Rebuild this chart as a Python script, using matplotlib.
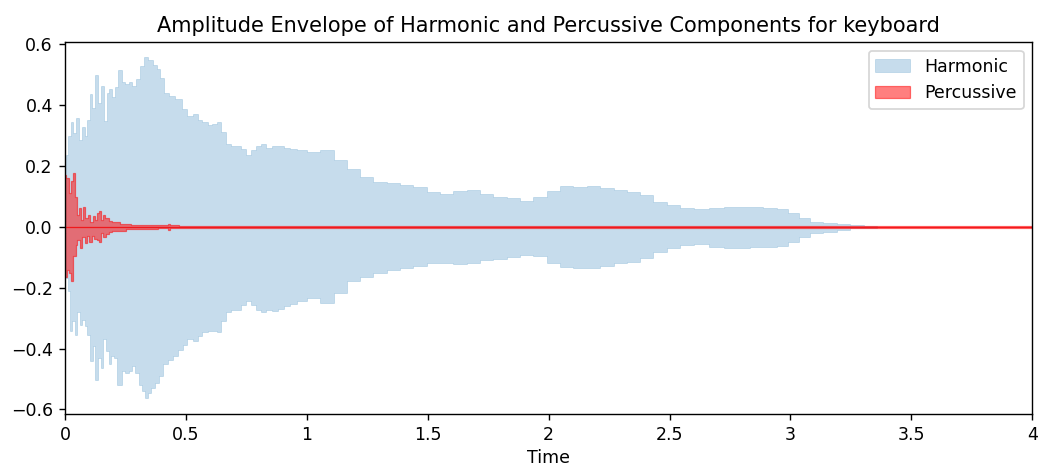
#!/usr/bin/env python3
"""Amplitude envelope of the harmonic / percussive parts of a keyboard note."""

import matplotlib
matplotlib.use("Agg")
import matplotlib.pyplot as plt
from matplotlib.ticker import FuncFormatter, MultipleLocator

# Harmonic envelope (seconds, amplitude)
harm_top_t = [0.000, 0.008, 0.020, 0.029, 0.040, 0.052, 0.063, 0.076, 0.087, 0.098,
              0.108, 0.119, 0.130, 0.142, 0.156, 0.167, 0.178, 0.187, 0.201, 0.212,
              0.228, 0.244, 0.256, 0.270, 0.285, 0.305, 0.318, 0.336, 0.353, 0.371,
              0.387, 0.401, 0.418, 0.443, 0.470, 0.496, 0.517, 0.538, 0.558, 0.579,
              0.600, 0.620, 0.638, 0.655, 0.676, 0.696, 0.717, 0.738, 0.758, 0.779,
              0.800, 0.820, 0.841, 0.869, 0.896, 0.917, 0.944, 0.972, 1.027, 1.083,
              1.138, 1.192, 1.248, 1.303, 1.358, 1.413, 1.468, 1.524, 1.579, 1.634,
              1.689, 1.744, 1.799, 1.855, 1.910, 1.965, 2.020, 2.075, 2.130, 2.185,
              2.241, 2.296, 2.351, 2.406, 2.461, 2.516, 2.572, 2.627, 2.696, 2.751,
              2.806, 2.861, 2.916, 2.971, 3.013, 3.054, 3.109, 3.164, 3.219, 3.275,
              3.330, 3.385, 3.450, 4.000]
harm_top = [0.020, 0.236, 0.300, 0.345, 0.308, 0.357, 0.285, 0.330, 0.300, 0.350,
            0.438, 0.390, 0.498, 0.406, 0.462, 0.347, 0.440, 0.455, 0.427, 0.460,
            0.517, 0.476, 0.470, 0.476, 0.462, 0.485, 0.530, 0.560, 0.548, 0.534,
            0.520, 0.490, 0.440, 0.430, 0.420, 0.389, 0.364, 0.370, 0.351, 0.345,
            0.334, 0.340, 0.345, 0.312, 0.274, 0.266, 0.266, 0.255, 0.236, 0.252,
            0.266, 0.272, 0.261, 0.266, 0.266, 0.261, 0.255, 0.252, 0.247, 0.252,
            0.220, 0.192, 0.165, 0.149, 0.146, 0.138, 0.130, 0.116, 0.108, 0.119,
            0.120, 0.108, 0.099, 0.094, 0.086, 0.099, 0.119, 0.134, 0.132, 0.134,
            0.127, 0.120, 0.116, 0.105, 0.083, 0.072, 0.061, 0.058, 0.061, 0.064,
            0.064, 0.064, 0.061, 0.058, 0.045, 0.028, 0.017, 0.014, 0.010, 0.005,
            0.002, 0.001, 0.0005, 0.0005]

harm_bot_t = [0.000, 0.008, 0.018, 0.026, 0.036, 0.045, 0.057, 0.067, 0.077, 0.087,
              0.098, 0.109, 0.119, 0.131, 0.142, 0.153, 0.164, 0.175, 0.187, 0.197,
              0.208, 0.219, 0.230, 0.243, 0.256, 0.270, 0.284, 0.298, 0.312, 0.325,
              0.335, 0.349, 0.363, 0.381, 0.398, 0.415, 0.436, 0.456, 0.481, 0.496,
              0.517, 0.538, 0.558, 0.579, 0.600, 0.620, 0.638, 0.655, 0.676, 0.696,
              0.717, 0.738, 0.758, 0.779, 0.800, 0.820, 0.841, 0.869, 0.896, 0.917,
              0.944, 0.972, 1.027, 1.083, 1.138, 1.192, 1.248, 1.303, 1.358, 1.413,
              1.468, 1.524, 1.579, 1.634, 1.689, 1.744, 1.799, 1.855, 1.910, 1.965,
              2.020, 2.075, 2.130, 2.185, 2.241, 2.296, 2.351, 2.406, 2.461, 2.516,
              2.572, 2.627, 2.696, 2.751, 2.806, 2.861, 2.916, 2.971, 3.013, 3.054,
              3.109, 3.164, 3.219, 3.275, 3.330, 3.385, 3.450, 4.000]
harm_bot = [-0.020, -0.168, -0.212, -0.343, -0.310, -0.354, -0.278, -0.321, -0.305, -0.327,
            -0.354, -0.442, -0.392, -0.502, -0.431, -0.463, -0.370, -0.409, -0.452, -0.425,
            -0.431, -0.518, -0.518, -0.474, -0.480, -0.474, -0.458, -0.480, -0.518, -0.540,
            -0.562, -0.545, -0.529, -0.512, -0.491, -0.452, -0.436, -0.425, -0.403, -0.387,
            -0.370, -0.376, -0.360, -0.345, -0.341, -0.343, -0.345, -0.310, -0.280, -0.272,
            -0.272, -0.256, -0.243, -0.256, -0.272, -0.280, -0.272, -0.275, -0.269, -0.261,
            -0.254, -0.242, -0.234, -0.250, -0.217, -0.179, -0.163, -0.152, -0.141, -0.136,
            -0.130, -0.119, -0.117, -0.121, -0.119, -0.110, -0.106, -0.099, -0.092, -0.097,
            -0.117, -0.132, -0.136, -0.134, -0.128, -0.119, -0.114, -0.103, -0.084, -0.070,
            -0.059, -0.056, -0.066, -0.068, -0.068, -0.066, -0.065, -0.062, -0.048, -0.034,
            -0.021, -0.016, -0.010, -0.005, -0.002, -0.001, -0.0005, -0.0005]

# Percussive envelope
perc_top_t = [0.000, 0.012, 0.018, 0.028, 0.036, 0.045, 0.055, 0.062, 0.071, 0.080,
              0.089, 0.098, 0.109, 0.119, 0.129, 0.136, 0.145, 0.152, 0.160, 0.174,
              0.188, 0.202, 0.250, 0.300, 0.350, 0.420, 0.430, 0.440, 0.500, 4.000]
perc_top = [0.170, 0.160, 0.110, 0.150, 0.178, 0.100, 0.039, 0.061, 0.023, 0.067,
            0.028, 0.039, 0.017, 0.036, 0.023, 0.045, 0.053, 0.023, 0.039, 0.028,
            0.020, 0.016, 0.011, 0.008, 0.006, 0.005, 0.010, 0.005, 0.004, 0.004]

perc_bot_t = [0.000, 0.014, 0.022, 0.030, 0.040, 0.048, 0.055, 0.066, 0.077, 0.088,
              0.096, 0.105, 0.115, 0.125, 0.136, 0.145, 0.155, 0.163, 0.175, 0.188,
              0.202, 0.300, 0.350, 0.420, 0.430, 0.440, 0.500, 4.000]
perc_bot = [-0.165, -0.140, -0.150, -0.179, -0.097, -0.060, -0.043, -0.070, -0.032, -0.053,
            -0.030, -0.048, -0.030, -0.040, -0.043, -0.048, -0.020, -0.034, -0.023, -0.016,
            -0.012, -0.008, -0.006, -0.005, -0.010, -0.005, -0.004, -0.004]

title = "Amplitude Envelope of Harmonic and Percussive Components for keyboard"


def main() -> None:
    dpi = 125
    fig = plt.figure(figsize=(1040 / dpi, 473 / dpi), dpi=dpi)
    ax = fig.add_axes([0.0625, 0.1247, 0.93, 0.7865])

    # harmonic: upper and lower halves drawn from the centre line
    ax.fill_between(harm_top_t, 0, harm_top, step="mid", color="C0", alpha=0.25,
                    linewidth=0.4, label="Harmonic")
    ax.fill_between(harm_bot_t, harm_bot, 0, step="mid", color="C0", alpha=0.25,
                    linewidth=0.4)

    ax.fill_between(perc_top_t, 0, perc_top, step="mid", color="r", alpha=0.5,
                    linewidth=0.7, label="Percussive")
    ax.fill_between(perc_bot_t, perc_bot, 0, step="mid", color="r", alpha=0.5,
                    linewidth=0.7)

    ax.set_xlim(0, 4)
    ax.set_ylim(-0.615, 0.608)
    ax.xaxis.set_major_locator(MultipleLocator(0.5))
    ax.xaxis.set_major_formatter(FuncFormatter(lambda v, p: f"{v:g}"))
    ax.yaxis.set_major_locator(MultipleLocator(0.2))
    ax.tick_params(labelsize=10)

    ax.set_title(title, fontsize=12, pad=6)
    ax.set_xlabel("Time", fontsize=10, labelpad=3)
    ax.legend(loc="upper right", fontsize=10)

    fig.savefig("out.png", dpi=dpi)


if __name__ == "__main__":
    main()
